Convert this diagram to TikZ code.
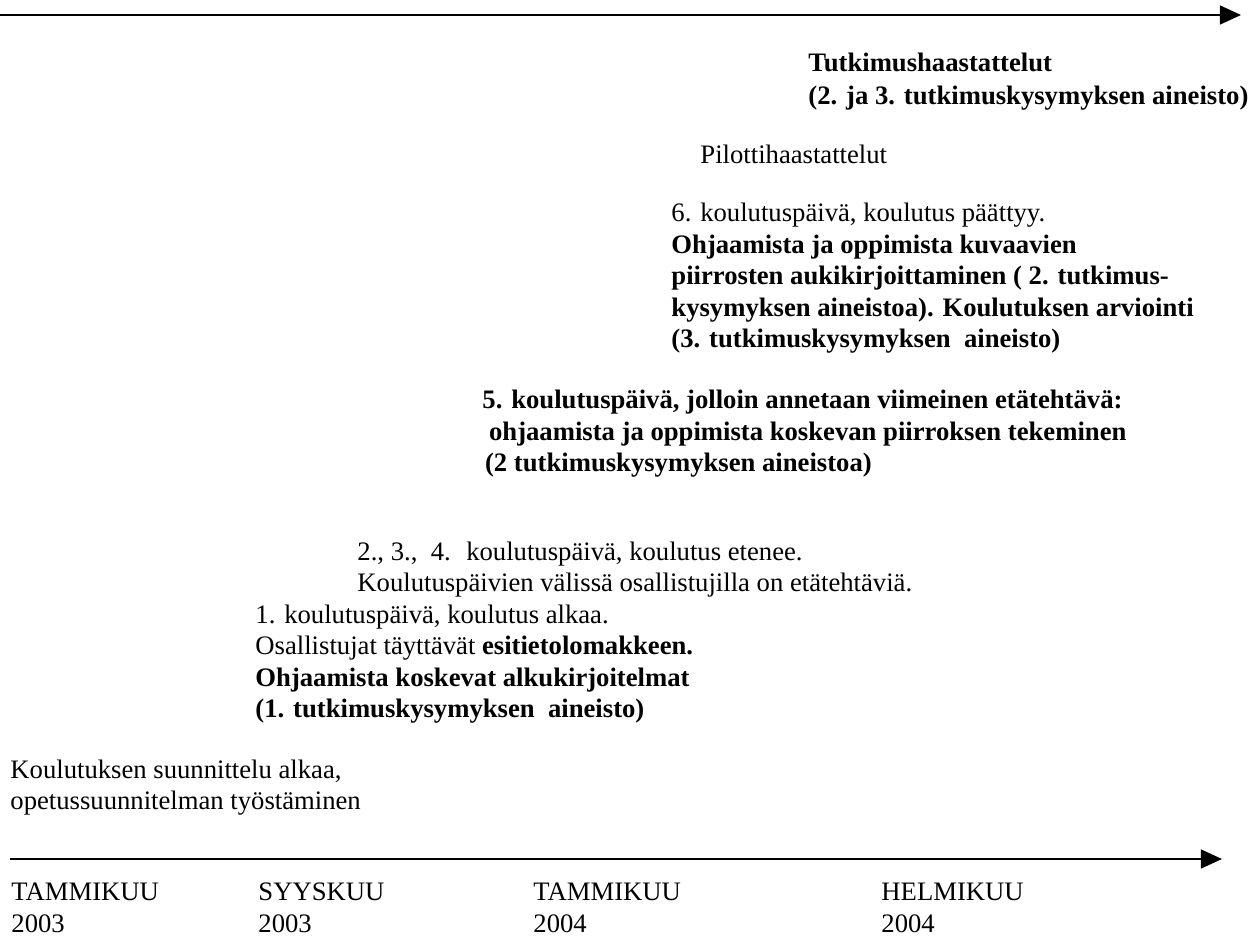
\documentclass[tikz,border=0pt]{standalone}
\usepackage{fontspec}
\setmainfont{Liberation Serif}
\usetikzlibrary{positioning}
\usetikzlibrary{arrows.meta}

\begin{document}
\begin{tikzpicture}[x=0.45pt, y=-0.45pt,
	txt/.style={anchor=base west, inner sep=0pt, align=left, font=\fontsize{12}{14.2}\selectfont},
	timeline/.style={line width=0.9pt, -{Triangle[length=9.5pt, width=8.5pt]}}]
			\useasboundingbox (0,0) rectangle (1254,936);

			\coordinate (topL) at (0,15);
			\coordinate (topR) at (1241,15);
			\draw[timeline] (topL) -- (topR);

			\node[txt, font=\fontsize{12}{14.85}\selectfont] (haast) at (808,105) {\textbf{Tutkimushaastattelut}\\\textbf{(2. ja 3. tutkimuskysymyksen aineisto)}};
			\node[txt] (pilot) at (700,164) {Pilottihaastattelut};
			\node[txt] (day6) at (671,348) {6. koulutuspäivä, koulutus päättyy.\\
				\textbf{Ohjaamista ja oppimista kuvaavien}\\
				\textbf{piirrosten aukikirjoittaminen ( 2. tutkimus-}\\
				\textbf{kysymyksen aineistoa). Koulutuksen arviointi}\\
				\textbf{(3. tutkimuskysymyksen~ aineisto)}};
			\node[txt] (day5) at (482,472) {\textbf{5. koulutuspäivä, jolloin annetaan viimeinen etätehtävä:}\\
				\hspace*{0.25em}\textbf{ohjaamista ja oppimista koskevan piirroksen tekeminen}\\
				\hspace*{0.1em}\textbf{(2 tutkimuskysymyksen aineistoa)}};
			\node[txt] (day234) at (357,592) {2., 3.,~ 4.~ koulutuspäivä, koulutus etenee.\\
				Koulutuspäivien välissä osallistujilla on etätehtäviä.};
			\node[txt] (day1) at (255,718) {1. koulutuspäivä, koulutus alkaa.\\
				Osallistujat täyttävät \textbf{esitietolomakkeen.}\\
				\textbf{Ohjaamista koskevat alkukirjoitelmat}\\
				\textbf{(1. tutkimuskysymyksen~ aineisto)}};
			\node[txt] (plan) at (10,810) {Koulutuksen suunnittelu alkaa,\\opetussuunnitelman työstäminen};

			\coordinate (botL) at (10,859);
			\coordinate (botR) at (1222,859);
			\draw[timeline] (botL) -- (botR);

			\node[txt] (jan03) at (11,932) {TAMMIKUU\\2003};
			\node[txt] (sep03) at (258,932) {SYYSKUU\\2003};
			\node[txt] (jan04) at (533,932) {TAMMIKUU\\2004};
			\node[txt] (feb04) at (881,932) {HELMIKUU\\2004};
		\end{tikzpicture}
\end{document}
